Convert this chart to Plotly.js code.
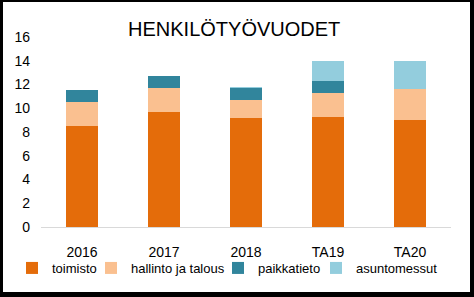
<!DOCTYPE html>
<html>
<head>
<meta charset="utf-8">
<script src="https://cdn.plot.ly/plotly-3.0.1.min.js"></script>
<style>
  html, body { margin: 0; padding: 0; background: #ffffff; }
  #frame { width: 474px; height: 297px; box-sizing: border-box; border-style: solid; border-color: #000000;
           border-width: 2px 4px 5px 3px; background: #ffffff; }
  #chart { width: 467px; height: 290px; }
</style>
</head>
<body>
<div id="frame"><div id="chart"></div></div>
<script>
const categories = ["2016", "2017", "2018", "TA19", "TA20"];
const toimisto = [8.5, 9.7, 9.2, 9.3, 9.0];
const hallinto = [2.0, 2.0, 1.5, 2.0, 2.6];
const paikkatieto = [1.0, 1.0, 1.0, 1.0, 0];
const asuntomessut = [0, 0, 0.1, 1.7, 2.4];
const seriesNames = ["toimisto", "hallinto ja talous", "paikkatieto", "asuntomessut"];
const seriesColors = ["#E46C0A", "#FAC090", "#31859C", "#93CDDD"];
const yTicks = [0, 2, 4, 6, 8, 10, 12, 14, 16];
const titleText = "HENKILÖTYÖVUODET";

const legendIds = ["legend", "legend2", "legend3", "legend4"];
const legendX = [0.0193, 0.1884, 0.4604, 0.6702];

const allValues = [toimisto, hallinto, paikkatieto, asuntomessut];
const traces = allValues.map((vals, i) => ({
  type: "bar",
  x: categories,
  y: vals,
  name: seriesNames[i],
  legend: legendIds[i],
  marker: { color: seriesColors[i], line: { width: 0 } },
  hoverinfo: "x+y+name"
}));

const font = "Liberation Sans, Arial, sans-serif";
const layout = {
  width: 467,
  height: 290,
  barmode: "stack",
  bargap: 0.6,
  paper_bgcolor: "#ffffff",
  plot_bgcolor: "#ffffff",
  margin: { l: 38, r: 19, t: 35, b: 65, pad: 0, autoexpand: false },
  font: { family: font, size: 14, color: "#000000" },
  title: {
    text: titleText,
    font: { family: font, size: 20, color: "#000000" },
    x: 0.495, xanchor: "center", xref: "container",
    y: 0.907, yanchor: "middle", yref: "container"
  },
  xaxis: {
    type: "category",
    showgrid: false,
    showline: true,
    linecolor: "#d9d9d9",
    linewidth: 1,
    ticks: "",
    ticklabelstandoff: 12,
    tickfont: { family: font, size: 14, color: "#000000" },
    zeroline: false
  },
  yaxis: {
    range: [0, 16],
    tickvals: yTicks,
    ticktext: yTicks.map(String),
    showgrid: false,
    showline: false,
    zeroline: false,
    ticks: "",
    ticklabelstandoff: 10,
    tickfont: { family: font, size: 14, color: "#000000" }
  },
  showlegend: true
};

legendIds.forEach((id, i) => {
  layout[id] = {
    orientation: "h",
    xref: "container", yref: "container",
    x: legendX[i], xanchor: "left",
    y: 0.0828, yanchor: "middle",
    font: { family: font, size: 13, color: "#000000" },
    bgcolor: "rgba(0,0,0,0)",
    borderwidth: 0
  };
});

Plotly.newPlot("chart", traces, layout, { staticPlot: true, displayModeBar: false });
</script>
</body>
</html>
